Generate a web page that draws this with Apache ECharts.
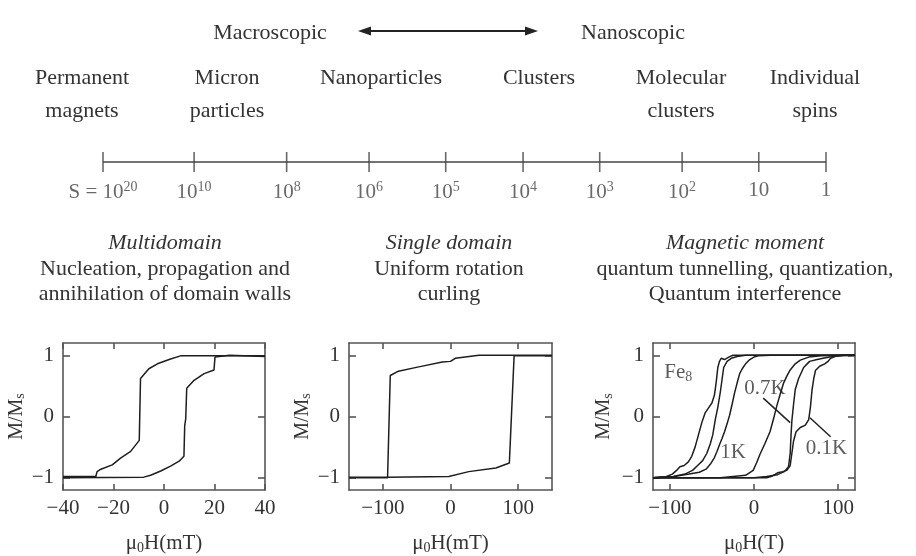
<!DOCTYPE html>
<html><head><meta charset="utf-8">
<script src="https://cdn.jsdelivr.net/npm/echarts@6/dist/echarts.min.js"></script>
<style>html,body{margin:0;padding:0;background:#fff}#c{width:916px;height:556px}</style>
</head><body><div id="c"></div>
<script>
// ---------- data ----------
const scaleBase = ['10','10','10','10','10','10','10','10','10','1'];
const scaleExp  = ['20','10','8','6','5','4','3','2','',''];
const scalePos  = [0, 1.26, 2.54, 3.68, 4.74, 5.81, 6.87, 8.01, 9.07, 10];

const sizeClasses = ['Permanent\nmagnets','Micron\nparticles','Nanoparticles','Clusters','Molecular\nclusters','Individual\nspins'];
const regimeTitles = ['Multidomain','Single domain','Magnetic moment'];
const regimeTexts = ['Nucleation, propagation and\nannihilation of domain walls','Uniform rotation\ncurling','quantum tunnelling, quantization,\nQuantum interference'];

// Panel 1: multidomain (mT)
const mdDesc = [[40,0.99],[6.6,0.99],[2.6,0.94],[-2.6,0.86],[-6,0.78],[-9.3,0.62],[-9.5,0.59],[-9.8,-0.39],[-13.2,-0.57],[-17.2,-0.68],[-20.5,-0.79],[-25,-0.86],[-26.5,-0.9],[-27,-0.98],[-40,-0.98]];
const mdAsc  = [[-40,-1],[-8,-0.99],[-5.3,-0.96],[-1.3,-0.89],[2.6,-0.81],[6,-0.73],[7.9,-0.65],[8.2,-0.15],[8.6,-0.04],[9,0.46],[11.9,0.59],[15.9,0.70],[19.8,0.76],[20.2,0.97],[26,1.0],[40,0.98]];
// Panel 2: single domain (mT)
const sdDesc = [[150,1],[42,1],[7,0.95],[0,0.9],[-12,0.89],[-47,0.81],[-77,0.74],[-89,0.67],[-93,-1],[-150,-1]];
const sdAsc  = [[-150,-0.99],[-93,-0.99],[-2.5,-0.98],[27,-0.9],[67,-0.84],[87,-0.76],[94,0.99],[150,0.99]];
// Panel 3: Fe8 at three temperatures
const fe1KDesc = [[120,1],[20,1],[5,0.99],[0,0.97],[-5,0.93],[-10,0.86],[-14,0.78],[-17,0.70],[-20,0.55],[-23,0.39],[-26,0.2],[-29,0.02],[-32,-0.12],[-35,-0.25],[-38,-0.36],[-41,-0.46],[-44,-0.57],[-47,-0.67],[-52,-0.78],[-57,-0.86],[-65,-0.91],[-77,-0.94],[-95,-0.98],[-120,-1]];
const fe1KAsc  = [[-120,-1],[-40,-1],[-10,-0.96],[-1,-0.88],[3,-0.76],[7,-0.62],[13,-0.44],[19,-0.25],[23,-0.05],[27,0.17],[31,0.36],[35,0.54],[39,0.66],[43,0.76],[49,0.86],[55,0.92],[65,0.97],[80,0.99],[120,1]];
const fe07Desc = [[120,1],[-10,1],[-20,0.98],[-27,0.95],[-32,0.9],[-36,0.8],[-38,0.6],[-40,0.4],[-43,0.15],[-46,-0.05],[-49,-0.3],[-52,-0.45],[-56,-0.6],[-61,-0.72],[-67,-0.8],[-73,-0.88],[-82,-0.94],[-96,-0.98],[-120,-1]];
const fe07Asc  = [[-120,-1],[0,-1],[15,-0.98],[28,-0.95],[36,-0.9],[41,-0.82],[43,-0.6],[44,-0.3],[45,-0.07],[47,0.2],[49,0.44],[53,0.62],[59,0.8],[66,0.9],[75,0.93],[82,0.95],[90,0.97],[100,0.99],[120,1]];
const fe01Desc = [[120,1],[-25,1],[-30,0.97],[-35,0.93],[-39,0.95],[-41,0.9],[-43,0.8],[-45,0.55],[-47,0.35],[-50,0.22],[-54,0.14],[-58,0.06],[-62,-0.1],[-66,-0.3],[-70,-0.5],[-74,-0.65],[-78,-0.74],[-83,-0.8],[-88,-0.82],[-92,-0.88],[-97,-0.94],[-104,-0.98],[-120,-1]];
const fe01Asc  = [[-120,-1],[15,-1],[22,-0.97],[28,-0.92],[34,-0.9],[39,-0.88],[43,-0.8],[45,-0.6],[47,-0.4],[50,-0.25],[55,-0.18],[61,-0.14],[65,-0.05],[67,0.15],[69,0.44],[71,0.62],[73,0.75],[78,0.82],[84,0.86],[88,0.9],[91,0.95],[96,0.98],[106,1],[120,1]];

const feNotes = [
  {text:'Fe{sub|8}', at:[-90,0.72]},
  {text:'0.7K', at:[13,0.46]},
  {text:'1K', at:[-25,-0.58]},
  {text:'0.1K', at:[86,-0.53]}
];
const feArrows = [
  [[11,0.30],[43,-0.1]],
  [[91,-0.33],[66.5,-0.02]]
];

// ---------- style / layout ----------
const FONT = '"Liberation Serif","DejaVu Serif",serif';
const TXT = '#333';
const FRAME = '#555';
const LINE = '#1e1e1e';
const FS = 22;
const TFS = 21;

const panels = [
  {left:63, width:202, lim:40, ticks:[-40,-20,0,20,40], xname:'μ{sub|0}H(mT)', ygap:31},
  {left:349, width:203, lim:150, ticks:[-100,0,100], xname:'μ{sub|0}H(mT)', ygap:31},
  {left:653, width:202, lim:120, ticks:[-100,0,100], xname:'μ{sub|0}H(T)', ygap:38}
];
const PTOP = 343, PH = 151;

const fmtNum = v => (v < 0 ? '\u2212' + Math.abs(v) : String(v));
const subStyle = {fontFamily:FONT,fontSize:14,color:TXT,padding:[9,0,0,0]};

const grid = [{left:103, width:723, top:147, height:30}];
const xAxis = [{gridIndex:0,type:'value',min:scalePos[0],max:scalePos[scalePos.length-1],show:false}];
const yAxis = [{gridIndex:0,type:'value',min:-1,max:1,show:false}];
const frameLine = {show:true,onZero:false,lineStyle:{color:FRAME,width:1.6}};
const tickStyle = {color:FRAME,width:1.6};

panels.forEach((p,i)=>{
  const gi = i+1;
  grid.push({left:p.left, width:p.width, top:PTOP, height:PH});
  xAxis.push({gridIndex:gi,type:'value',min:-p.lim,max:p.lim,position:'bottom',
    axisLine:frameLine,
    axisTick:{show:true,inside:true,length:6,lineStyle:tickStyle,customValues:p.ticks},
    axisLabel:{show:true,customValues:p.ticks,formatter:fmtNum,fontFamily:FONT,fontSize:TFS,color:TXT,margin:8},
    splitLine:{show:false},
    name:p.xname,nameLocation:'middle',nameGap:42,
    nameTextStyle:{fontFamily:FONT,fontSize:TFS,color:TXT,rich:{sub:subStyle}}
  });
  xAxis.push({gridIndex:gi,type:'value',min:-p.lim,max:p.lim,position:'top',
    axisLine:frameLine,
    axisTick:{show:true,inside:true,length:6,lineStyle:tickStyle,customValues:p.ticks},
    axisLabel:{show:false},splitLine:{show:false}});
  yAxis.push({gridIndex:gi,type:'value',min:-1.2,max:1.2,position:'left',
    axisLine:frameLine,
    axisTick:{show:true,inside:true,length:7,lineStyle:tickStyle,customValues:[-1,0,1]},
    axisLabel:{show:true,customValues:[-1,0,1],formatter:fmtNum,fontFamily:FONT,fontSize:TFS,color:TXT,margin:9},
    splitLine:{show:false},
    name:'M/M{sub|s}',nameLocation:'middle',nameRotate:90,nameGap:p.ygap,
    nameTextStyle:{fontFamily:FONT,fontSize:20,color:TXT,rich:{sub:subStyle}}
  });
  yAxis.push({gridIndex:gi,type:'value',min:-1.2,max:1.2,position:'right',
    axisLine:frameLine,
    axisTick:{show:true,inside:true,length:7,lineStyle:tickStyle,customValues:[-1,0,1]},
    axisLabel:{show:false},splitLine:{show:false}});
});

function curve(data, gi){
  return {type:'line',xAxisIndex:2*gi-1,yAxisIndex:2*gi-1,data:data,showSymbol:false,symbol:'none',
    lineStyle:{color:LINE,width:1.5},silent:true,z:3};
}

const series = [
  {type:'line',xAxisIndex:0,yAxisIndex:0,data:[[scalePos[0],0],[scalePos[scalePos.length-1],0]],
   showSymbol:false,symbol:'none',lineStyle:{color:'#444',width:1.6},silent:true},
  {type:'scatter',xAxisIndex:0,yAxisIndex:0,symbol:'rect',symbolSize:[1.6,20],
   itemStyle:{color:'#444'},silent:true,
   data:scalePos.map((p,i)=>({value:[p,0],name:i})),
   label:{show:true,position:'bottom',distance:8,
     formatter:(d)=>{const i=d.data.name;return (i===0?'S = ':'')+scaleBase[i]+(scaleExp[i]?'{sup|'+scaleExp[i]+'}':'');},
     fontFamily:FONT,fontSize:TFS,color:'#444',
     rich:{sup:{fontFamily:FONT,fontSize:14,color:'#444',verticalAlign:'top',padding:[0,0,10,0]}}}
  },
  curve(mdDesc,1), curve(mdAsc,1),
  curve(sdDesc,2), curve(sdAsc,2),
  curve(fe1KDesc,3), curve(fe1KAsc,3),
  curve(fe07Desc,3), curve(fe07Asc,3),
  curve(fe01Desc,3), curve(fe01Asc,3),
  {type:'scatter',xAxisIndex:5,yAxisIndex:5,symbolSize:0,silent:true,
   data:feNotes.map(n=>({value:n.at,name:n.text})),
   label:{show:true,position:'inside',formatter:d=>d.name,fontFamily:FONT,fontSize:TFS,color:TXT,
     rich:{sub:subStyle}},
   markLine:{silent:true,symbol:['none','arrow'],symbolSize:[0,11],animation:false,
     lineStyle:{color:'#222',width:1.5,type:'solid'},label:{show:false},
     data:feArrows.map(a=>[{coord:a[0]},{coord:a[1]}])}
  }
];

// ---------- text layout ----------
const graphic = [];
function txt(s, x, y, lh, opt){
  graphic.push({type:'text',x:x,y:y - lh/2,silent:true,
    style:Object.assign({text:s,font:FS+'px '+FONT,fill:TXT,align:'center',verticalAlign:'top',lineHeight:lh},opt||{})});
}
txt('Macroscopic',270,33,30);
txt('Nanoscopic',633,33,30);
// double-headed arrow
graphic.push({type:'line',silent:true,shape:{x1:368,y1:31,x2:528,y2:31},style:{stroke:'#222',lineWidth:2}});
graphic.push({type:'polygon',silent:true,shape:{points:[[358,31],[371,26.5],[371,35.5]]},style:{fill:'#222'}});
graphic.push({type:'polygon',silent:true,shape:{points:[[538,31],[525,26.5],[525,35.5]]},style:{fill:'#222'}});

const sizeX = [82,227,381,539,681,815];
sizeClasses.forEach((s,i)=>txt(s,sizeX[i],78,33));

const regimeX = [165,449,745];
regimeTitles.forEach((s,i)=>txt(s,regimeX[i],243,25,{font:'italic '+FS+'px '+FONT}));
regimeTexts.forEach((s,i)=>txt(s,regimeX[i],269,25));

const chart = echarts.init(document.getElementById('c'));
chart.setOption({animation:false,backgroundColor:'#fff',grid,xAxis,yAxis,series,graphic});
</script></body></html>
